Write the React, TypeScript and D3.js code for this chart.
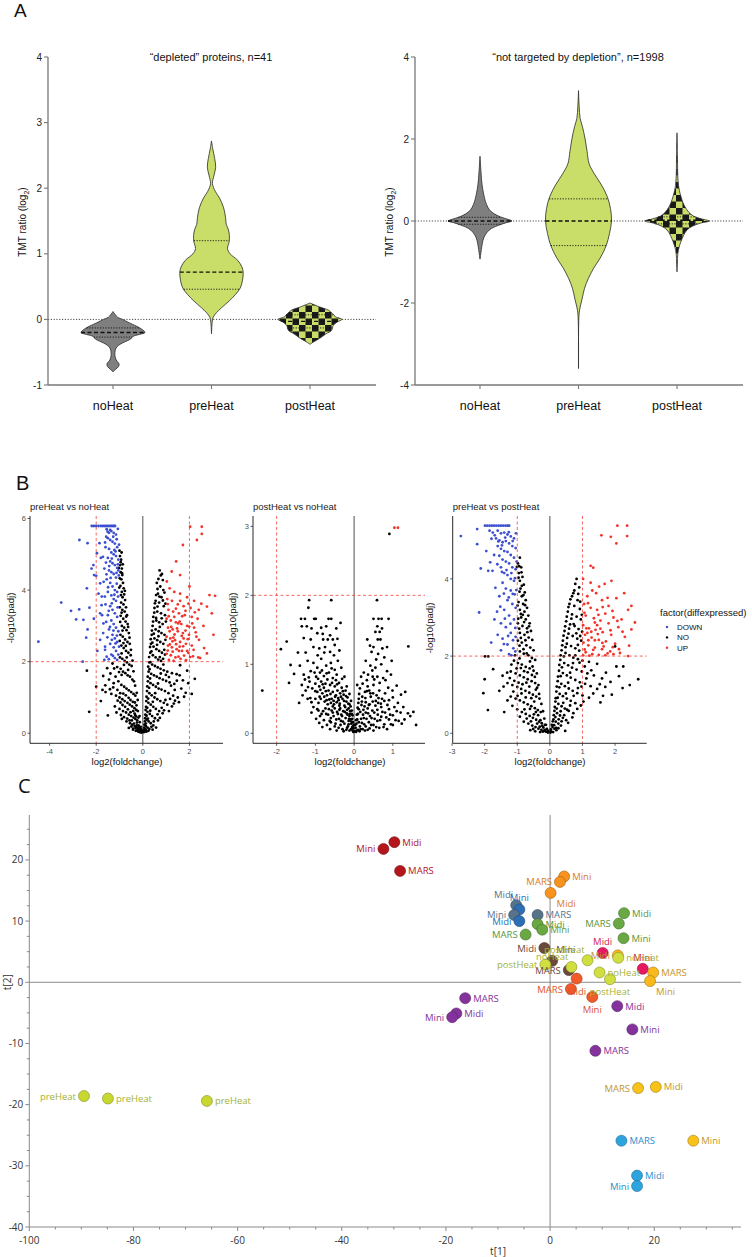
import React from 'react';
import * as d3 from 'd3';

// ---------------- Panel A data ----------------
const categories = ['noHeat', 'preHeat', 'postHeat'];
const depletedTitle = '\u201cdepleted\u201d proteins, n=41';
const notTargetedTitle = '\u201cnot targeted by depletion\u201d, n=1998';
const depletedTicks = [-1, 0, 1, 2, 3, 4];
const notTargetedTicks = [-4, -2, 0, 2, 4];

// [log2 ratio, relative density width]
const depNoHeat: [number, number][] = [[0.12, 0], [0.08, 0.06], [0.03, 0.15], [0, 0.3], [-0.05, 0.5], [-0.1, 0.72], [-0.15, 0.9], [-0.2, 1.0], [-0.23, 0.82], [-0.26, 0.62], [-0.3, 0.55], [-0.34, 0.38], [-0.38, 0.22], [-0.42, 0.12], [-0.47, 0.07], [-0.55, 0.06], [-0.62, 0.1], [-0.68, 0.19], [-0.72, 0.17], [-0.76, 0.08], [-0.8, 0]];
const depPreHeat: [number, number][] = [[2.72, 0], [2.6, 0.04], [2.45, 0.1], [2.32, 0.13], [2.2, 0.08], [2.07, 0.03], [1.95, 0.12], [1.85, 0.25], [1.7, 0.38], [1.55, 0.44], [1.45, 0.46], [1.38, 0.52], [1.28, 0.56], [1.18, 0.55], [1.08, 0.5], [1.0, 0.58], [0.9, 0.82], [0.8, 0.95], [0.72, 0.99], [0.6, 0.97], [0.48, 0.9], [0.38, 0.75], [0.28, 0.55], [0.18, 0.32], [0.1, 0.15], [0.03, 0.05], [-0.05, 0.02], [-0.22, 0]];
const depPostHeat: [number, number][] = [[0.25, 0], [0.19, 0.3], [0.14, 0.58], [0.09, 0.7], [0.04, 0.8], [0, 1.0], [-0.04, 0.85], [-0.09, 0.73], [-0.17, 0.67], [-0.22, 0.5], [-0.29, 0.3], [-0.34, 0.12], [-0.38, 0]];
const allNoHeat: [number, number][] = [[1.58, 0], [1.2, 0.03], [0.9, 0.06], [0.7, 0.1], [0.55, 0.14], [0.4, 0.2], [0.28, 0.28], [0.18, 0.42], [0.1, 0.62], [0.04, 0.85], [0, 0.97], [-0.04, 0.8], [-0.1, 0.58], [-0.18, 0.35], [-0.27, 0.22], [-0.4, 0.12], [-0.55, 0.07], [-0.7, 0.04], [-0.93, 0]];
const allPreHeat: [number, number][] = [[3.18, 0], [2.8, 0.02], [2.5, 0.05], [2.3, 0.12], [2.0, 0.2], [1.7, 0.26], [1.4, 0.32], [1.15, 0.48], [0.9, 0.68], [0.6, 0.87], [0.3, 0.97], [0, 1.0], [-0.3, 0.94], [-0.6, 0.84], [-0.9, 0.66], [-1.15, 0.46], [-1.4, 0.3], [-1.65, 0.18], [-1.9, 0.11], [-2.1, 0.05], [-2.3, 0.015], [-3.6, 0]];
const allPostHeat: [number, number][] = [[2.15, 0], [1.5, 0.015], [1.0, 0.03], [0.75, 0.07], [0.6, 0.12], [0.45, 0.18], [0.35, 0.24], [0.22, 0.35], [0.12, 0.5], [0.05, 0.75], [0, 0.98], [-0.05, 0.72], [-0.12, 0.48], [-0.22, 0.3], [-0.35, 0.2], [-0.5, 0.12], [-0.65, 0.06], [-0.8, 0.025], [-1.24, 0]];
// [lower quartile, median, upper quartile]
const depQuartiles = [[-0.27, -0.2, -0.13], [0.46, 0.72, 1.2], [-0.13, -0.03, 0.07]];
const allQuartiles = [[-0.08, 0, 0.09], [-0.6, 0, 0.54], [-0.07, 0.02, 0.1]];

// ---------------- Panel B data ----------------
const volcanoTitles = ['preHeat vs noHeat', 'postHeat vs noHeat', 'preHeat vs postHeat'];
const legendTitle = 'factor(diffexpressed)';
const legendItems = ['DOWN', 'NO', 'UP'];

const v1Down: [number, number][] = [[-2.19, 5.79], [-2.1, 5.79], [-2.0, 5.79], [-1.9, 5.79], [-1.8, 5.79], [-1.72, 5.79], [-1.65, 5.79], [-1.58, 5.79], [-1.5, 5.79], [-1.43, 5.79], [-1.36, 5.79], [-1.3, 5.79], [-1.24, 5.79], [-1.19, 5.79], [-2.37, 5.31], [-2.72, 5.4], [-4.48, 2.56], [-3.5, 3.65], [-3.08, 3.42], [-2.73, 3.46], [-2.86, 3.18], [-2.55, 3.17], [-2.43, 2.67], [-2.58, 2.0], [-2.37, 2.9], [-2.29, 3.51], [-2.4, 4.05], [-2.12, 4.7], [-2.09, 4.42], [-1.97, 5.03], [-1.86, 5.31], [-1.83, 4.19], [-1.76, 3.82], [-1.83, 3.35], [-1.69, 3.07], [-1.83, 2.61], [-1.62, 2.42], [-1.55, 2.14], [-1.4, 5.68], [-1.57, 5.49], [-1.55, 5.7], [-1.45, 5.6], [-1.35, 5.65], [-1.25, 5.6], [-1.15, 5.55], [-1.5, 5.45], [-1.4, 5.4], [-1.3, 5.35], [-1.2, 5.3], [-1.1, 5.2], [-1.6, 5.2], [-1.45, 5.15], [-1.35, 5.05], [-1.25, 5.0], [-1.15, 4.95], [-1.05, 4.85], [-1.5, 4.9], [-1.4, 4.8], [-1.3, 4.75], [-1.2, 4.7], [-1.1, 4.62], [-1.05, 4.55], [-1.65, 4.6], [-1.45, 4.55], [-1.35, 4.5], [-1.25, 4.45], [-1.15, 4.35], [-1.55, 4.3], [-1.4, 4.2], [-1.3, 4.1], [-1.2, 4.0], [-1.1, 3.95], [-1.5, 3.95], [-1.35, 3.85], [-1.25, 3.75], [-1.15, 3.7], [-1.6, 3.6], [-1.4, 3.55], [-1.3, 3.45], [-1.2, 3.35], [-1.1, 3.25], [-1.5, 3.3], [-1.35, 3.15], [-1.25, 3.05], [-1.15, 2.95], [-1.05, 2.85], [-1.45, 2.9], [-1.3, 2.75], [-1.2, 2.65], [-1.1, 2.55], [-1.4, 2.5], [-1.25, 2.4], [-1.15, 2.3], [-1.05, 2.2], [-1.35, 2.2], [-1.2, 2.1], [-1.1, 2.05], [-1.7, 2.8], [-1.75, 3.3], [-1.9, 3.9], [-2.0, 4.4], [-1.8, 4.9], [-2.2, 4.6], [-2.1, 3.2], [-1.95, 2.3], [-1.65, 2.05],
  [-1.07, 5.71], [-1.12, 5.42], [-1.02, 5.27], [-1.22, 5.12], [-1.33, 4.88], [-1.44, 4.67], [-1.58, 4.77], [-1.71, 4.93], [-1.62, 5.33], [-1.51, 5.63], [-1.27, 5.49], [-1.17, 5.08], [-1.07, 4.72], [-1.03, 4.41], [-1.12, 4.18], [-1.22, 3.87], [-1.33, 3.63], [-1.46, 3.42], [-1.57, 3.11], [-1.41, 2.97], [-1.26, 2.87], [-1.11, 2.73], [-1.02, 2.42], [-1.17, 2.51], [-1.33, 2.61], [-1.52, 2.68], [-1.62, 2.33], [-1.46, 2.07], [-1.28, 2.16], [-1.08, 3.52], [-1.06, 3.82], [-1.13, 4.48], [-1.38, 4.34], [-1.49, 4.08], [-1.63, 3.82], [-1.77, 3.58], [-1.68, 4.23], [-1.56, 4.44]];
const v1No: [number, number][] = [[-0.98, 4.95], [-0.93, 4.85], [-0.97, 4.7], [-0.9, 4.6], [-0.95, 4.5], [-0.88, 4.42], [-0.92, 4.3], [-0.85, 4.2], [-0.96, 4.12], [-0.82, 4.05], [-0.9, 3.95], [-0.8, 3.88], [-0.87, 3.8], [-0.76, 3.72], [-0.93, 3.65], [-0.83, 3.6], [-0.72, 3.52], [-0.88, 3.45], [-0.78, 3.4], [-0.68, 3.3], [-0.95, 3.28], [-0.84, 3.2], [-0.74, 3.12], [-0.65, 3.05], [-0.9, 3.0], [-0.8, 2.95], [-0.7, 2.88], [-0.6, 2.8], [-0.96, 2.75], [-0.86, 2.7], [-0.76, 2.62], [-0.66, 2.55], [-0.56, 2.5], [-0.92, 2.45], [-0.82, 2.38], [-0.72, 2.3], [-0.62, 2.25], [-0.52, 2.18], [-0.98, 2.12], [-0.88, 2.08], [-0.78, 2.02], [-0.68, 1.98], [-0.58, 1.92], [-0.48, 1.88], [-1.3, 1.95], [-1.1, 1.85], [-0.95, 1.8], [-0.85, 1.72], [-0.75, 1.68], [-0.65, 1.62], [-0.55, 1.58], [-0.45, 1.5], [-0.38, 1.45], [-1.45, 1.5], [-1.25, 1.4], [-1.05, 1.45], [-0.92, 1.35], [-0.8, 1.3], [-0.7, 1.25], [-0.6, 1.2], [-0.5, 1.15], [-0.4, 1.1], [-0.32, 1.05], [-1.6, 1.15], [-1.35, 1.1], [-1.15, 1.05], [-1.0, 1.0], [-0.88, 0.95], [-0.78, 0.9], [-0.66, 0.85], [-0.56, 0.8], [-0.46, 0.75], [-0.36, 0.7], [-0.28, 0.65], [-1.2, 0.75], [-1.0, 0.68], [-0.85, 0.62], [-0.72, 0.58], [-0.6, 0.52], [-0.5, 0.48], [-0.4, 0.44], [-0.32, 0.4], [-0.24, 0.36], [-0.9, 0.4], [-0.7, 0.33], [-0.55, 0.28], [-0.45, 0.24], [-0.35, 0.2], [-0.27, 0.17], [-0.2, 0.14], [-0.15, 0.1], [-0.1, 0.07], [-0.6, 0.15], [-0.42, 0.1], [-0.3, 0.07], [-0.2, 0.05], [-0.12, 0.03], [-0.06, 0.02], [-0.35, 0.55], [-0.25, 0.3], [-0.18, 0.22], [-2.4, 1.75], [-2.0, 1.3], [-1.8, 0.9], [-1.7, 1.6], [-2.3, 0.6], [-1.5, 0.5],
  [-1.03, 4.62], [-0.99, 4.33], [-1.01, 4.07], [-0.94, 3.86], [-0.99, 3.52], [-0.91, 3.37], [-0.97, 3.11], [-0.87, 2.87], [-0.99, 2.58], [-0.91, 2.23], [-0.83, 2.52], [-0.73, 2.44], [-0.69, 2.12], [-0.63, 1.77], [-0.81, 1.91], [-0.91, 1.63], [-1.02, 1.71], [-1.17, 1.58], [-1.23, 1.81], [-1.39, 1.67], [-1.53, 1.82], [-1.61, 1.34], [-1.73, 1.21], [-1.41, 1.23], [-1.27, 1.28], [-1.09, 1.21], [-0.97, 1.12], [-0.84, 1.11], [-0.73, 1.06], [-0.61, 0.99], [-0.53, 0.93], [-0.43, 0.88], [-0.34, 0.86], [-0.27, 0.78], [-0.21, 0.62], [-0.19, 0.44], [-0.13, 0.31], [-0.09, 0.18], [-0.07, 0.11], [-0.04, 0.06], [-0.16, 0.04], [-0.23, 0.09], [-0.31, 0.15], [-0.38, 0.27], [-0.47, 0.36], [-0.53, 0.59], [-0.64, 0.67], [-0.76, 0.74], [-0.87, 0.79], [-0.96, 0.86], [-1.08, 0.91], [-1.13, 0.58], [-0.94, 0.51], [-0.81, 0.45], [-0.67, 0.41], [-0.57, 0.36], [-0.49, 0.19], [-0.41, 0.13], [-0.26, 0.22], [-0.17, 0.17], [-0.11, 0.12], [-0.08, 0.05], [-0.33, 0.51], [-0.41, 0.62], [-0.29, 0.47], [-0.77, 3.98], [-0.89, 4.47], [-0.95, 4.78], [-0.91, 5.05], [-1.0, 5.1], [-0.86, 4.72], [-0.71, 3.26], [-0.63, 2.97], [-0.57, 2.67], [-0.51, 2.33], [-0.44, 2.03], [-0.4, 1.73], [-0.33, 1.33], [-0.26, 1.13], [-0.22, 0.93], [-0.14, 0.48],
  [0.72, 4.55], [0.82, 4.45], [0.6, 4.2], [0.75, 4.1], [0.88, 4.0], [0.65, 3.9], [0.8, 3.8], [0.55, 3.7], [0.7, 3.65], [0.9, 3.55], [0.5, 3.5], [0.62, 3.4], [0.78, 3.35], [0.95, 3.3], [0.45, 3.25], [0.58, 3.15], [0.7, 3.1], [0.85, 3.05], [0.42, 3.0], [0.55, 2.9], [0.68, 2.85], [0.8, 2.8], [0.93, 2.75], [0.38, 2.75], [0.5, 2.65], [0.62, 2.6], [0.75, 2.55], [0.88, 2.5], [0.35, 2.5], [0.46, 2.42], [0.58, 2.35], [0.7, 2.3], [0.82, 2.25], [0.95, 2.2], [0.32, 2.25], [0.43, 2.18], [0.55, 2.12], [0.66, 2.06], [0.78, 2.02], [0.28, 1.98], [0.4, 1.92], [0.52, 1.88], [0.64, 1.84], [0.76, 1.8], [0.9, 1.76], [1.05, 1.72], [1.25, 1.68], [1.45, 1.65], [0.25, 1.72], [0.36, 1.66], [0.48, 1.62], [0.6, 1.58], [0.72, 1.54], [0.86, 1.5], [1.0, 1.46], [1.15, 1.42], [1.35, 1.38], [1.65, 1.25], [1.95, 1.4], [0.22, 1.45], [0.33, 1.4], [0.44, 1.35], [0.56, 1.3], [0.68, 1.25], [0.8, 1.22], [0.95, 1.18], [1.1, 1.12], [1.3, 1.05], [1.5, 1.0], [0.18, 1.18], [0.28, 1.12], [0.38, 1.06], [0.5, 1.0], [0.62, 0.95], [0.75, 0.9], [0.9, 0.85], [1.05, 0.8], [1.25, 0.75], [0.15, 0.9], [0.24, 0.85], [0.34, 0.8], [0.45, 0.74], [0.56, 0.68], [0.7, 0.62], [0.85, 0.56], [0.12, 0.65], [0.2, 0.6], [0.3, 0.54], [0.4, 0.48], [0.52, 0.42], [0.65, 0.36], [0.1, 0.42], [0.17, 0.38], [0.25, 0.33], [0.34, 0.28], [0.45, 0.22], [0.07, 0.24], [0.13, 0.2], [0.2, 0.16], [0.28, 0.12], [0.05, 0.1], [0.1, 0.07], [0.16, 0.05], [0.03, 0.03], [1.9, 1.75], [1.6, 1.9], [2.1, 1.1],
  [0.06, 0.16], [0.09, 0.33], [0.11, 0.52], [0.14, 0.74], [0.16, 1.02], [0.19, 1.31], [0.21, 1.58], [0.23, 1.86], [0.27, 2.13], [0.31, 2.41], [0.34, 2.63], [0.39, 2.87], [0.44, 3.12], [0.49, 3.37], [0.52, 3.63], [0.57, 3.86], [0.63, 4.03], [0.67, 4.31], [0.77, 4.41], [0.86, 4.28], [0.93, 3.93], [0.97, 3.62], [0.99, 3.12], [0.97, 2.61], [0.92, 2.33], [0.87, 2.08], [0.73, 2.13], [0.61, 2.47], [0.67, 2.71], [0.73, 2.97], [0.81, 3.21], [0.86, 3.71], [0.71, 3.82], [0.63, 3.54], [0.57, 3.22], [0.47, 2.78], [0.41, 2.53], [0.37, 2.29], [0.33, 1.99], [0.29, 1.79], [0.31, 1.53], [0.27, 1.27], [0.23, 0.97], [0.19, 0.71], [0.16, 0.49], [0.13, 0.27], [0.22, 0.41], [0.32, 0.63], [0.43, 0.88], [0.53, 1.12], [0.65, 1.39], [0.77, 1.67], [0.88, 1.92], [0.99, 1.63], [1.12, 1.57], [1.21, 1.33], [1.37, 1.21], [1.46, 1.47], [1.58, 1.62], [1.72, 1.48], [1.84, 1.13], [1.55, 0.87], [1.38, 0.91], [1.17, 0.96], [0.97, 0.93], [0.81, 0.71], [0.63, 0.53], [0.47, 0.33], [0.37, 0.18], [0.24, 0.07], [0.12, 0.11], [0.08, 0.04], [0.57, 0.16], [0.73, 0.43], [0.91, 0.64], [1.12, 0.62], [1.33, 0.83], [2.23, 1.52], [1.77, 1.02], [0.42, 0.1]];
const v1Up: [number, number][] = [[2.53, 5.77], [2.03, 5.77], [1.72, 5.26], [2.32, 5.4], [2.53, 5.57], [1.43, 4.8], [1.24, 4.52], [1.6, 4.42], [1.03, 4.24], [2.86, 3.86], [3.1, 3.84], [2.75, 3.54], [2.96, 3.35], [3.03, 2.75], [2.75, 2.23], [2.46, 2.1], [1.15, 4.05], [1.35, 3.95], [1.6, 3.9], [1.9, 3.8], [2.2, 3.7], [1.05, 3.75], [1.25, 3.7], [1.5, 3.6], [1.75, 3.55], [2.05, 3.5], [2.4, 3.45], [1.1, 3.45], [1.3, 3.4], [1.55, 3.35], [1.8, 3.3], [2.1, 3.25], [2.35, 3.2], [1.02, 3.2], [1.2, 3.15], [1.42, 3.1], [1.65, 3.05], [1.9, 3.0], [2.2, 2.95], [1.08, 2.95], [1.28, 2.9], [1.5, 2.85], [1.72, 2.8], [1.98, 2.75], [2.3, 2.7], [1.02, 2.7], [1.18, 2.65], [1.38, 2.6], [1.6, 2.55], [1.85, 2.5], [2.1, 2.45], [1.08, 2.45], [1.25, 2.4], [1.45, 2.35], [1.68, 2.3], [1.95, 2.25], [1.02, 2.22], [1.2, 2.18], [1.4, 2.12], [1.62, 2.08], [1.85, 2.04], [2.15, 2.15], [1.12, 2.05], [1.32, 2.02], [1.55, 2.3], [1.75, 2.65], [1.35, 3.25], [1.6, 3.7], [2.6, 3.0], [2.0, 4.1], [1.15, 2.85], [1.9, 2.3],
  [1.07, 2.31], [1.16, 2.48], [1.27, 2.57], [1.36, 2.76], [1.47, 2.93], [1.58, 3.12], [1.69, 3.27], [1.83, 3.42], [1.96, 3.62], [2.12, 3.07], [2.27, 2.82], [2.41, 2.61], [2.18, 2.33], [2.03, 2.13], [1.77, 2.17], [1.58, 2.42], [1.43, 2.49], [1.31, 2.67], [1.22, 2.97], [1.11, 3.27], [1.07, 3.61], [1.42, 3.48], [1.52, 3.07], [1.67, 2.72], [1.83, 2.87], [1.99, 2.98], [2.23, 3.38], [2.51, 3.62], [2.63, 2.38], [2.38, 2.12], [1.28, 2.28], [1.53, 2.14], [1.73, 2.43], [1.93, 2.63]];

const v2No: [number, number][] = [[-1.16, 1.93], [-0.59, 1.93], [-1.18, 1.82], [-1.37, 1.66], [-1.27, 1.66], [-1.03, 1.66], [-0.99, 1.66], [-0.66, 1.66], [-0.59, 1.66], [-1.35, 1.55], [-1.22, 1.55], [-1.1, 1.52], [-0.85, 1.53], [-0.72, 1.55], [-0.46, 1.52], [-0.35, 1.6], [-0.95, 1.45], [-0.62, 1.42], [-1.3, 1.38], [-1.12, 1.36], [-0.8, 1.36], [-0.68, 1.36], [-0.55, 1.36], [-0.5, 1.28], [-1.05, 1.25], [-0.9, 1.23], [-0.75, 1.25], [-0.62, 1.18], [-0.38, 1.2], [-1.25, 1.17], [-1.89, 1.22], [-1.74, 1.33],
  [0.59, 1.93], [0.5, 1.66], [0.63, 1.66], [0.71, 1.66], [0.89, 1.66], [0.6, 1.55], [0.72, 1.52], [0.55, 1.47], [0.61, 1.36], [0.68, 1.36], [0.34, 1.36], [0.85, 1.25], [1.4, 1.26], [0.5, 1.25], [0.45, 1.18], [0.62, 1.15], [0.78, 1.1],
  [-1.64, 0.99], [-1.55, 0.86], [-1.4, 0.98], [-1.2, 1.05], [-1.05, 1.02], [-0.95, 0.95], [-0.85, 1.08], [-0.72, 0.98], [-0.6, 1.02], [-0.5, 0.92], [-0.42, 1.05], [-1.3, 0.85], [-1.12, 0.9], [-0.98, 0.82], [-0.88, 0.88], [-0.78, 0.83], [-0.65, 0.88], [-0.55, 0.8], [-0.45, 0.85], [-0.33, 0.95], [-0.25, 0.82],
  [0.3, 1.05], [0.42, 0.98], [0.55, 0.95], [0.7, 1.0], [0.85, 0.9], [0.25, 0.88], [0.36, 0.85], [0.48, 0.82], [0.6, 0.82], [0.75, 0.8], [0.95, 0.85], [1.1, 0.69], [1.32, 0.6],
  [-1.68, 0.73], [-1.42, 0.44], [-2.37, 0.62], [-1.35, 0.7], [-1.25, 0.62], [-1.15, 0.75], [-1.08, 0.65], [-1.0, 0.72], [-0.95, 0.6], [-0.9, 0.68], [-0.85, 0.75], [-0.82, 0.58], [-0.78, 0.66], [-0.74, 0.72], [-0.7, 0.55], [-0.66, 0.62], [-0.62, 0.7], [-0.58, 0.5], [-0.55, 0.6], [-0.5, 0.68], [-0.47, 0.55], [-0.43, 0.62], [-0.4, 0.48], [-0.36, 0.58], [-0.32, 0.66], [-0.3, 0.5], [-0.27, 0.56], [-0.22, 0.62], [-0.2, 0.46], [-0.17, 0.52], [-0.12, 0.42], [-1.2, 0.5], [-1.1, 0.45], [-1.0, 0.5], [-0.92, 0.44], [-0.86, 0.5], [-0.76, 0.46], [-0.68, 0.42], [-0.6, 0.44], [-0.52, 0.42], [-0.45, 0.45], [-0.38, 0.4], [-0.25, 0.4], [-0.14, 0.36],
  [0.08, 0.7], [0.15, 0.65], [0.22, 0.72], [0.28, 0.6], [0.35, 0.68], [0.42, 0.58], [0.5, 0.7], [0.58, 0.55], [0.65, 0.62], [0.72, 0.5], [0.8, 0.58], [0.9, 0.48], [1.0, 0.52], [0.12, 0.5], [0.2, 0.46], [0.3, 0.45], [0.4, 0.42], [0.48, 0.46], [0.55, 0.4], [0.62, 0.44], [0.7, 0.38],
  [-1.1, 0.3], [-0.95, 0.35], [-0.88, 0.25], [-0.8, 0.32], [-0.72, 0.28], [-0.65, 0.35], [-0.6, 0.22], [-0.55, 0.3], [-0.5, 0.36], [-0.46, 0.2], [-0.42, 0.28], [-0.38, 0.34], [-0.34, 0.18], [-0.31, 0.25], [-0.28, 0.32], [-0.25, 0.14], [-0.22, 0.22], [-0.19, 0.29], [-0.16, 0.1], [-0.14, 0.18], [-0.12, 0.25], [-0.1, 0.32], [-0.08, 0.06], [-0.07, 0.14], [-0.05, 0.21], [-0.04, 0.04], [-0.03, 0.1], [-0.02, 0.02], [-0.7, 0.12], [-0.5, 0.1], [-0.4, 0.08], [-0.3, 0.06], [-0.2, 0.05], [-0.12, 0.04], [-0.9, 0.15], [-0.6, 0.16], [-0.35, 0.12], [-0.18, 0.08], [-0.09, 0.2], [-0.06, 0.28],
  [0.02, 0.03], [0.04, 0.08], [0.06, 0.14], [0.08, 0.2], [0.1, 0.28], [0.12, 0.35], [0.05, 0.02], [0.1, 0.05], [0.15, 0.1], [0.2, 0.15], [0.25, 0.22], [0.3, 0.3], [0.35, 0.36], [0.14, 0.03], [0.22, 0.06], [0.3, 0.1], [0.38, 0.16], [0.45, 0.22], [0.52, 0.3], [0.6, 0.34], [0.28, 0.04], [0.4, 0.07], [0.5, 0.12], [0.6, 0.18], [0.7, 0.24], [0.8, 0.3], [0.9, 0.35], [0.5, 0.04], [0.65, 0.08], [0.78, 0.13], [0.9, 0.2], [1.0, 0.26], [1.1, 0.32], [1.2, 0.3], [1.39, 0.29], [1.45, 0.25], [1.53, 0.31], [1.0, 0.12], [1.15, 0.18], [0.85, 0.06], [1.3, 0.2], [1.6, 0.12], [0.91, 2.89],
  [-0.93, 0.79], [-0.87, 0.63], [-0.81, 0.71], [-0.77, 0.53], [-0.73, 0.61], [-0.69, 0.78], [-0.64, 0.49], [-0.61, 0.57], [-0.57, 0.73], [-0.53, 0.47], [-0.49, 0.53], [-0.44, 0.71], [-0.41, 0.51], [-0.37, 0.43], [-0.34, 0.53], [-0.29, 0.61], [-0.26, 0.47], [-0.23, 0.38], [-0.21, 0.54], [-0.18, 0.34], [-0.15, 0.43], [-0.11, 0.28], [-0.13, 0.21], [-0.07, 0.17], [-0.05, 0.09], [-0.03, 0.16], [-0.02, 0.07], [-0.06, 0.33], [-0.09, 0.39], [-0.17, 0.27], [-0.24, 0.31], [-0.29, 0.17], [-0.33, 0.27], [-0.39, 0.21], [-0.44, 0.31], [-0.48, 0.14], [-0.53, 0.25], [-0.58, 0.33], [-0.63, 0.18], [-0.67, 0.27], [-0.74, 0.36], [-0.78, 0.19], [-0.84, 0.28], [-0.92, 0.33], [-0.98, 0.21], [-1.05, 0.38], [-1.13, 0.51], [-1.19, 0.67], [-1.27, 0.78], [-1.33, 0.55], [-1.02, 0.88], [-0.83, 0.91], [-0.71, 0.87], [-0.58, 0.94], [-0.47, 0.77], [-0.39, 0.73], [-0.31, 0.79], [-0.19, 0.68], [-0.12, 0.57], [-0.08, 0.47], [-0.04, 0.26], [-0.01, 0.12], [-0.45, 0.04], [-0.62, 0.06], [-0.82, 0.09], [-0.27, 0.03], [-0.14, 0.13], [-0.36, 0.36], [-0.55, 0.39], [-0.71, 0.48], [-0.89, 0.53], [-1.0, 0.61], [-1.17, 0.81], [-0.94, 1.13], [-0.77, 1.17], [-0.52, 1.13], [-0.81, 1.44], [-0.43, 1.37], [-1.45, 1.17],
  [0.03, 0.12], [0.05, 0.19], [0.07, 0.27], [0.09, 0.37], [0.11, 0.44], [0.13, 0.57], [0.16, 0.31], [0.18, 0.21], [0.19, 0.41], [0.21, 0.53], [0.23, 0.27], [0.26, 0.13], [0.27, 0.39], [0.29, 0.51], [0.32, 0.21], [0.33, 0.61], [0.36, 0.29], [0.38, 0.41], [0.41, 0.25], [0.43, 0.53], [0.44, 0.12], [0.47, 0.33], [0.49, 0.58], [0.53, 0.21], [0.56, 0.47], [0.57, 0.09], [0.61, 0.27], [0.63, 0.51], [0.67, 0.19], [0.69, 0.43], [0.73, 0.31], [0.76, 0.09], [0.78, 0.47], [0.83, 0.23], [0.86, 0.41], [0.93, 0.27], [0.95, 0.13], [1.04, 0.38], [1.07, 0.19], [1.13, 0.44], [1.23, 0.14], [1.27, 0.38], [0.07, 0.04], [0.17, 0.06], [0.35, 0.05], [0.12, 0.16], [0.24, 0.34], [0.39, 0.62], [0.52, 0.78], [0.66, 0.73], [0.81, 0.77], [0.88, 0.66], [0.47, 0.91], [0.33, 0.77], [0.18, 0.82], [0.57, 1.07], [0.73, 1.23], [0.41, 1.27], [0.66, 1.47], [0.97, 1.05], [1.21, 0.56], [0.99, 0.62]];
const v2Up: [number, number][] = [[1.04, 2.98], [1.13, 2.98]];

const v3Down: [number, number][] = [[-1.99, 5.38], [-1.92, 5.38], [-1.85, 5.38], [-1.78, 5.38], [-1.71, 5.38], [-1.64, 5.38], [-1.57, 5.38], [-1.5, 5.38], [-1.43, 5.38], [-1.36, 5.38], [-1.3, 5.38], [-1.25, 5.38], [-2.73, 5.11], [-2.23, 5.29], [-2.23, 4.9], [-2.12, 4.27], [-1.89, 4.21], [-1.76, 4.21], [-2.17, 3.13], [-1.62, 3.15], [-1.85, 5.25], [-1.75, 5.2], [-1.6, 5.25], [-1.5, 5.18], [-1.4, 5.2], [-1.3, 5.15], [-1.2, 5.1], [-1.1, 5.05], [-1.65, 5.05], [-1.55, 5.0], [-1.45, 4.95], [-1.35, 4.98], [-1.25, 4.92], [-1.15, 4.85], [-1.05, 4.8], [-1.6, 4.85], [-1.5, 4.78], [-1.4, 4.72], [-1.3, 4.7], [-1.2, 4.62], [-1.1, 4.55], [-1.02, 4.45], [-1.55, 4.6], [-1.45, 4.5], [-1.35, 4.45], [-1.25, 4.4], [-1.15, 4.3], [-1.05, 4.25], [-1.5, 4.3], [-1.4, 4.15], [-1.3, 4.1], [-1.2, 4.0], [-1.1, 3.95], [-1.45, 3.9], [-1.35, 3.75], [-1.2, 3.7], [-1.08, 3.6], [-1.55, 3.55], [-1.3, 3.45], [-1.15, 3.35], [-1.05, 3.25], [-1.4, 3.2], [-1.25, 3.05], [-1.1, 2.95], [-1.7, 2.95], [-1.5, 2.85], [-1.35, 2.75], [-1.2, 2.6], [-1.05, 2.5], [-1.6, 2.55], [-1.45, 2.45], [-1.3, 2.3], [-1.12, 2.2], [-1.5, 2.15], [-1.25, 2.05], [-1.8, 2.35],
  [-1.04, 5.18], [-1.14, 4.98], [-1.26, 5.21], [-1.37, 5.07], [-1.47, 4.87], [-1.58, 4.97], [-1.69, 5.13], [-1.79, 5.04], [-1.71, 4.62], [-1.61, 4.38], [-1.47, 4.18], [-1.33, 4.23], [-1.18, 4.15], [-1.07, 4.02], [-1.03, 3.71], [-1.14, 3.61], [-1.26, 3.52], [-1.41, 3.62], [-1.52, 3.28], [-1.38, 2.97], [-1.21, 2.84], [-1.06, 2.73], [-1.13, 2.41], [-1.28, 2.52], [-1.41, 2.31], [-1.06, 2.12], [-1.18, 2.02], [-1.67, 3.77], [-1.83, 4.43], [-1.95, 4.72]];
const v3No: [number, number][] = [[-0.92, 4.55], [-0.98, 4.4], [-0.88, 4.3], [-0.95, 4.15], [-0.84, 4.05], [-0.92, 3.95], [-0.8, 3.85], [-0.9, 3.75], [-0.77, 3.65], [-0.86, 3.55], [-0.74, 3.45], [-0.96, 3.4], [-0.82, 3.35], [-0.7, 3.25], [-0.92, 3.2], [-0.78, 3.15], [-0.66, 3.05], [-0.88, 3.0], [-0.74, 2.95], [-0.62, 2.85], [-0.98, 2.85], [-0.84, 2.78], [-0.7, 2.72], [-0.58, 2.65], [-0.92, 2.6], [-0.78, 2.55], [-0.65, 2.48], [-0.54, 2.42], [-0.98, 2.4], [-0.86, 2.35], [-0.72, 2.28], [-0.6, 2.22], [-0.5, 2.15], [-0.92, 2.12], [-0.8, 2.06], [-0.66, 2.02], [-0.55, 1.95], [-0.45, 1.9], [-1.1, 1.88], [-0.98, 1.82], [-0.86, 1.78], [-0.74, 1.72], [-0.62, 1.68], [-0.5, 1.62], [-0.4, 1.55], [-1.2, 1.6], [-1.05, 1.55], [-0.92, 1.5], [-0.8, 1.45], [-0.68, 1.4], [-0.56, 1.35], [-0.45, 1.3], [-0.35, 1.25], [-1.3, 1.3], [-1.15, 1.25], [-1.0, 1.2], [-0.88, 1.15], [-0.75, 1.1], [-0.63, 1.05], [-0.52, 1.0], [-0.42, 0.95], [-0.32, 0.9], [-1.2, 0.95], [-1.05, 0.9], [-0.92, 0.85], [-0.8, 0.8], [-0.68, 0.75], [-0.57, 0.7], [-0.46, 0.65], [-0.37, 0.6], [-0.28, 0.55], [-1.0, 0.62], [-0.86, 0.55], [-0.74, 0.5], [-0.62, 0.45], [-0.52, 0.4], [-0.42, 0.35], [-0.33, 0.3], [-0.25, 0.26], [-0.8, 0.3], [-0.66, 0.25], [-0.54, 0.2], [-0.44, 0.16], [-0.35, 0.12], [-0.26, 0.09], [-0.18, 0.06], [-0.12, 0.04], [-0.06, 0.02], [-0.6, 0.08], [-0.45, 0.05], [-0.3, 0.03], [-0.2, 0.15], [-0.15, 0.22], [-2.04, 1.04], [-1.45, 1.49], [-1.74, 1.66], [-1.99, 1.99], [-1.89, 1.99], [-1.3, 0.85], [-1.55, 1.1], [-1.9, 0.6], [-1.4, 0.55], [-2.0, 1.4],
  [-1.01, 4.31], [-0.96, 4.03], [-0.93, 3.67], [-0.99, 3.31], [-0.89, 3.09], [-0.97, 2.97], [-0.94, 2.71], [-0.89, 2.47], [-0.93, 2.27], [-1.07, 2.02], [-1.18, 1.78], [-1.31, 1.57], [-1.42, 1.21], [-1.23, 1.43], [-1.09, 1.36], [-1.02, 1.68], [-0.93, 1.94], [-0.81, 2.18], [-0.75, 2.41], [-0.69, 2.62], [-0.64, 2.77], [-0.79, 2.88], [-0.83, 3.07], [-0.76, 3.32], [-0.81, 3.58], [-0.86, 3.82], [-0.87, 4.17], [-0.94, 4.33], [-0.71, 2.07], [-0.61, 1.86], [-0.53, 1.73], [-0.46, 1.46], [-0.39, 1.18], [-0.33, 1.02], [-0.26, 0.76], [-0.21, 0.57], [-0.17, 0.38], [-0.12, 0.22], [-0.09, 0.11], [-0.05, 0.06], [-0.15, 0.09], [-0.23, 0.19], [-0.29, 0.34], [-0.36, 0.47], [-0.43, 0.55], [-0.48, 0.82], [-0.57, 0.91], [-0.63, 1.21], [-0.72, 1.31], [-0.84, 1.27], [-0.96, 1.31], [-1.12, 1.08], [-0.99, 0.97], [-0.87, 1.03], [-0.74, 0.93], [-0.61, 0.63], [-0.49, 0.49], [-0.39, 0.25], [-0.31, 0.17], [-0.58, 0.31], [-0.71, 0.38], [-0.92, 0.43], [-1.15, 0.71], [-0.78, 0.62], [-0.51, 0.11], [-0.22, 0.04], [-0.68, 1.58], [-0.79, 1.61], [-0.89, 1.69], [-0.55, 1.51], [-0.43, 1.13],
  [0.82, 4.0], [0.9, 3.78], [0.75, 3.7], [0.68, 3.55], [0.85, 3.45], [0.6, 3.35], [0.75, 3.3], [0.92, 3.22], [0.55, 3.15], [0.68, 3.08], [0.82, 3.02], [0.95, 2.95], [0.5, 2.9], [0.62, 2.82], [0.76, 2.78], [0.88, 2.7], [0.45, 2.65], [0.57, 2.58], [0.7, 2.52], [0.84, 2.45], [0.96, 2.4], [0.4, 2.4], [0.52, 2.32], [0.65, 2.26], [0.78, 2.2], [0.9, 2.14], [0.36, 2.15], [0.48, 2.08], [0.6, 2.02], [0.72, 1.96], [0.86, 1.92], [1.0, 1.88], [1.2, 1.85], [1.45, 1.8], [0.32, 1.9], [0.44, 1.82], [0.56, 1.76], [0.68, 1.7], [0.82, 1.65], [0.98, 1.6], [1.15, 1.55], [1.35, 1.5], [1.6, 1.42], [0.28, 1.62], [0.4, 1.56], [0.52, 1.5], [0.64, 1.44], [0.78, 1.38], [0.92, 1.32], [1.08, 1.28], [1.25, 1.22], [1.45, 1.15], [0.24, 1.35], [0.35, 1.28], [0.46, 1.22], [0.58, 1.16], [0.7, 1.1], [0.84, 1.04], [1.0, 0.98], [1.2, 0.92], [0.2, 1.08], [0.3, 1.02], [0.4, 0.96], [0.52, 0.9], [0.64, 0.84], [0.78, 0.78], [0.95, 0.72], [0.17, 0.82], [0.26, 0.76], [0.36, 0.7], [0.46, 0.64], [0.58, 0.58], [0.72, 0.52], [0.14, 0.58], [0.22, 0.52], [0.31, 0.46], [0.4, 0.4], [0.5, 0.34], [0.11, 0.36], [0.18, 0.3], [0.26, 0.25], [0.34, 0.2], [0.08, 0.16], [0.14, 0.12], [0.2, 0.08], [0.04, 0.05], [0.1, 0.03], [0.02, 0.02], [2.71, 1.4], [2.45, 1.25], [2.23, 1.17], [2.04, 1.73], [2.25, 1.73], [1.9, 1.0], [1.7, 1.2], [1.55, 0.8], [2.0, 2.25],
  [0.03, 0.1], [0.06, 0.22], [0.09, 0.31], [0.12, 0.47], [0.15, 0.68], [0.18, 0.91], [0.21, 1.21], [0.25, 1.47], [0.29, 1.77], [0.33, 2.02], [0.38, 2.28], [0.42, 2.53], [0.47, 2.77], [0.52, 3.02], [0.57, 3.27], [0.63, 3.47], [0.72, 3.63], [0.78, 3.87], [0.87, 3.61], [0.93, 3.41], [0.98, 3.07], [0.99, 2.63], [0.93, 2.52], [0.86, 2.29], [0.81, 2.59], [0.73, 2.83], [0.66, 2.97], [0.59, 2.71], [0.53, 2.47], [0.48, 2.23], [0.43, 1.99], [0.37, 1.71], [0.33, 1.48], [0.29, 1.19], [0.24, 0.92], [0.21, 0.64], [0.17, 0.42], [0.13, 0.21], [0.19, 0.14], [0.27, 0.36], [0.33, 0.57], [0.41, 0.79], [0.49, 1.03], [0.56, 1.31], [0.62, 1.57], [0.71, 1.82], [0.78, 2.02], [0.91, 1.83], [1.07, 1.73], [1.27, 1.63], [1.12, 1.42], [0.97, 1.21], [0.86, 1.17], [0.73, 0.97], [0.62, 0.72], [0.53, 0.61], [0.44, 0.47], [0.36, 0.31], [0.26, 0.13], [0.56, 0.27], [0.69, 0.41], [0.84, 0.63], [1.03, 0.82], [1.33, 1.03], [1.53, 1.27], [1.72, 1.57], [1.86, 1.33], [2.12, 1.48], [1.63, 0.97], [0.47, 0.06]];
const v3Up: [number, number][] = [[2.07, 5.38], [2.37, 5.38], [1.58, 5.13], [1.87, 5.09], [2.04, 4.92], [2.37, 5.11], [1.25, 4.34], [1.33, 4.29], [1.89, 3.95], [1.02, 4.0], [1.51, 3.8], [2.04, 3.5], [2.4, 3.2], [2.5, 2.69], [1.3, 3.7], [1.15, 3.55], [1.6, 3.45], [1.8, 3.3], [1.05, 3.35], [1.25, 3.25], [1.45, 3.2], [1.7, 3.1], [1.95, 3.0], [2.2, 2.95], [1.1, 3.05], [1.35, 2.98], [1.55, 2.92], [1.8, 2.85], [2.1, 2.75], [1.02, 2.8], [1.2, 2.72], [1.4, 2.68], [1.62, 2.62], [1.88, 2.55], [2.3, 2.5], [1.08, 2.55], [1.28, 2.48], [1.5, 2.42], [1.72, 2.38], [2.0, 2.32], [1.03, 2.35], [1.18, 2.28], [1.38, 2.22], [1.6, 2.18], [1.85, 2.12], [2.15, 2.08], [1.1, 2.1], [1.3, 2.05], [1.5, 2.03], [1.7, 2.02], [1.95, 2.05], [2.4, 2.0], [1.02, 2.02], [1.15, 2.6], [1.45, 2.8], [1.65, 2.25], [1.25, 3.9], [2.5, 3.3],
  [1.07, 2.17], [1.18, 2.41], [1.27, 2.63], [1.38, 2.87], [1.49, 3.07], [1.62, 3.27], [1.77, 3.51], [1.92, 3.17], [2.07, 2.91], [2.23, 2.63], [2.12, 2.18], [1.93, 2.23], [1.77, 2.07], [1.61, 2.34], [1.47, 2.57], [1.33, 2.16], [1.21, 2.01], [1.12, 2.72], [1.06, 3.12], [1.17, 3.37], [1.42, 3.63], [1.68, 3.87], [2.28, 3.63], [2.61, 2.87], [2.43, 2.27], [1.38, 2.41], [1.55, 2.71], [1.86, 2.67]];

// ---------------- Panel C data ----------------
const pcaLabel = ['Midi', 'Mini', 'MARS', 'preHeat', 'preHeat', 'preHeat', 'Mini', 'MARS', 'Midi', 'Midi', 'Mini', 'Mini', 'Midi', 'MARS', 'Midi', 'Mini', 'MARS', 'Midi', 'MARS', 'Mini', 'Midi', 'Mini', 'MARS', 'Midi', 'Mini', 'Midi', 'MARS', 'Mini', 'Midi', 'MARS', 'Mini', 'MARS', 'Midi', 'Mini', 'Midi', 'Mini', 'MARS', 'MARS', 'Midi', 'Mini', 'MARS', 'Midi', 'Mini', 'postHeat', 'noHeat', 'noHeat', 'noHeat', 'postHeat', 'postHeat'];
const pcaT1 = [-29.9, -32.0, -28.8, -89.5, -84.9, -65.9, 2.7, 1.9, 0.1, -6.5, -5.9, -6.9, -5.9, -2.4, -2.4, -1.5, -4.7, 14.2, 13.2, 14.1, -1.1, 0.4, 3.6, 10.1, 17.8, 13.0, 19.8, 19.2, 5.1, 4.0, 8.1, -16.3, -18.0, -18.8, 12.9, 15.8, 8.7, 16.9, 20.3, 27.5, 13.7, 16.7, 16.7, -0.9, 4.1, 9.5, 13.1, 7.2, 11.5];
const pcaT2 = [22.9, 21.8, 18.2, -18.6, -19.0, -19.4, 17.3, 16.4, 14.6, 12.6, 11.9, 11.0, 10.0, 11.0, 9.5, 8.6, 7.8, 11.3, 9.6, 7.2, 5.6, 3.5, 2.0, 4.8, 2.2, 4.4, 1.6, 0.2, 0.6, -1.1, -2.4, -2.6, -5.1, -5.7, -3.9, -7.7, -11.2, -17.3, -17.1, -25.9, -25.9, -31.6, -33.3, 2.9, 2.5, 1.6, 4.0, 3.6, 0.5];
const pcaGroup = ['dr', 'dr', 'dr', 'ph', 'ph', 'ph', 'or', 'or', 'or', 'sl', 'bl', 'sl', 'bl', 'sl', 'gr', 'gr', 'gr', 'gr2', 'gr2', 'gr2', 'br', 'br', 'br', 'cr', 'cr', 'go', 'go', 'go', 'ro', 'ro', 'ro', 'pu', 'pu', 'pu', 'pu2', 'pu2', 'pu2', 'go2', 'go2', 'go2', 'lb', 'lb', 'lb', 'yg', 'yg', 'yg', 'yg', 'yg', 'yg'];
const pcaSide = ['r', 'l', 'r', 'l', 'r', 'r', 'r', 'l', 'br', 'tl', 't', 'l', 'l', 'r', 'r', 'r', 'l', 'r', 'l', 'r', 'l', 'tr', 'l', 't', 't', 'l', 'r', 'br', 'b', 'l', 'b', 'r', 'r', 'l', 'r', 'r', 'r', 'l', 'r', 'r', 'r', 'r', 'l', 'l', 'tl', 'r', 'r', 'tl', 'b'];
const pcaXTicks = [-100, -80, -60, -40, -20, 0, 20];
const pcaYTicks = [-40, -30, -20, -10, 0, 10, 20];

// ---------------- styles ----------------
const GREEN = '#c9dd69';
const GRAY = '#7f7f7f';
const groupColors: Record<string, [string, string]> = {
  dr: ['#b5161d', '#b5161d'], ph: ['#c8d831', '#a3b236'], or: ['#f7931e', '#dd7c22'], sl: ['#56738b', '#56738b'],
  bl: ['#2d6fb7', '#2d6fb7'], gr: ['#6aa843', '#5a963a'], gr2: ['#6aa843', '#5a963a'], br: ['#6b4a3b', '#6b4a3b'],
  yg: ['#d0df3f', '#a3b236'], cr: ['#e5195f', '#d41a5a'], go: ['#f9b81b', '#c4952e'], ro: ['#f15a29', '#e0532a'],
  pu: ['#85339c', '#85339c'], pu2: ['#85339c', '#85339c'], lb: ['#2ea4df', '#2b8fcd'], go2: ['#f8c21b', '#c4952e'],
};
const SANS = 'Liberation Sans, Arial, sans-serif';
const UI = 'Open Sans, Noto Sans, sans-serif';

type Prof = [number, number][];

function Violin({ cx, profile, y, W, fill, q }: { cx: number; profile: Prof; y: d3.ScaleLinear<number, number>; W: number; fill: string; q: number[] }) {
  const area = d3.area<[number, number]>().y(d => y(d[0])).x0(d => cx - d[1] * W).x1(d => cx + d[1] * W).curve(d3.curveCatmullRom.alpha(0.5));
  const wAt = d3.scaleLinear().domain(profile.map(d => d[0])).range(profile.map(d => d[1])).clamp(true);
  return (
    <g>
      <path d={area(profile) || ''} fill={fill} stroke="#2a2a2a" strokeWidth={0.8} />
      {q.map((v, i) => {
        const hw = wAt(v) * W;
        return <line key={i} x1={cx - hw} x2={cx + hw} y1={y(v)} y2={y(v)} stroke="#111" strokeWidth={i === 1 ? 1.4 : 0.9} strokeDasharray={i === 1 ? '4,2.5' : '1.2,1.5'} />;
      })}
    </g>
  );
}

function ViolinPanel({ axisX, right, domain, ticks, title, titleX, profiles, quarts, W, labelX }: any) {
  const y = d3.scaleLinear().domain(domain).range([385, 57]);
  const x = d3.scalePoint().domain(categories).range([axisX + 65, right - 66]);
  const fills = [GRAY, GREEN, 'url(#checker)'];
  return (
    <g fontFamily={SANS}>
      <line x1={axisX} x2={right} y1={y(0)} y2={y(0)} stroke="#333" strokeWidth={0.9} strokeDasharray="1.2,1.6" />
      {profiles.map((p: Prof, i: number) => (
        <Violin key={i} cx={x(categories[i])!} profile={p} y={y} W={W} fill={fills[i]} q={quarts[i]} />
      ))}
      <line x1={axisX} x2={axisX} y1={y(domain[1])} y2={y(domain[0])} stroke="#777" strokeWidth={1.3} />
      <line x1={axisX} x2={right} y1={y(domain[0])} y2={y(domain[0])} stroke="#777" strokeWidth={1.3} />
      {ticks.map((t: number) => (
        <g key={t}>
          <line x1={axisX - 4} x2={axisX} y1={y(t)} y2={y(t)} stroke="#777" strokeWidth={1.1} />
          <text x={axisX - 6} y={y(t) + 3.5} fontSize={10} textAnchor="end" fill="#222">{t}</text>
        </g>
      ))}
      {categories.map(c => (
        <g key={c}>
          <line x1={x(c)!} x2={x(c)!} y1={385} y2={389} stroke="#777" strokeWidth={1.1} />
          <text x={x(c)!} y={410} fontSize={12.5} textAnchor="middle" fill="#111">{c}</text>
        </g>
      ))}
      <text x={titleX} y={61} fontSize={11} textAnchor="middle" fill="#111">{title}</text>
      <text transform={`translate(${labelX},222) rotate(-90)`} fontSize={10} textAnchor="middle" fill="#111">
        TMT ratio (log<tspan dy={3} fontSize={7}>2</tspan><tspan dy={-3}>)</tspan>
      </text>
    </g>
  );
}

function Volcano({ left, right, top, bottom, xDom, yDom, xTicks, yTicks, vlines, title, titleX, xLabelX, yLabelX, yLabelY, down, no, up }: any) {
  const x = d3.scaleLinear().domain(xDom).range([left, right]);
  const y = d3.scaleLinear().domain(yDom).range([bottom, top]);
  const R = 1.4;
  return (
    <g fontFamily={SANS}>
      <line x1={x(0)} x2={x(0)} y1={top} y2={bottom} stroke="#222" strokeWidth={0.8} />
      {no.map((d: number[], i: number) => <circle key={'n' + i} cx={x(d[0])} cy={y(d[1])} r={R} fill="#000" />)}
      {down.map((d: number[], i: number) => <circle key={'d' + i} cx={x(d[0])} cy={y(d[1])} r={R} fill="#3b4fd0" />)}
      {up.map((d: number[], i: number) => <circle key={'u' + i} cx={x(d[0])} cy={y(d[1])} r={R} fill="#f2342b" />)}
      {vlines.map((v: number) => <line key={v} x1={x(v)} x2={x(v)} y1={top} y2={bottom} stroke="#f0433a" strokeWidth={0.8} strokeDasharray="3,2.5" />)}
      <line x1={left} x2={right} y1={y(2)} y2={y(2)} stroke="#f0433a" strokeWidth={0.8} strokeDasharray="3,2.5" />
      <line x1={left} x2={left} y1={top} y2={bottom} stroke="#111" strokeWidth={0.9} />
      <line x1={left} x2={right} y1={bottom} y2={bottom} stroke="#111" strokeWidth={0.9} />
      {yTicks.map((t: number) => (
        <g key={t}>
          <line x1={left - 2.5} x2={left} y1={y(t)} y2={y(t)} stroke="#333" strokeWidth={0.8} />
          <text x={left - 4} y={y(t) + 2.8} fontSize={7.5} textAnchor="end" fill="#4d4d4d">{t}</text>
        </g>
      ))}
      {xTicks.map((t: number) => (
        <g key={t}>
          <line x1={x(t)} x2={x(t)} y1={bottom} y2={bottom + 2.5} stroke="#333" strokeWidth={0.8} />
          <text x={x(t)} y={bottom + 11} fontSize={7.5} textAnchor="middle" fill="#4d4d4d">{t}</text>
        </g>
      ))}
      <text x={titleX} y={510} fontSize={9.5} fill="#222">{title}</text>
      <text x={xLabelX} y={765} fontSize={9.5} textAnchor="middle" fill="#111">log2(foldchange)</text>
      <text transform={`translate(${yLabelX},${yLabelY}) rotate(-90)`} fontSize={9.5} textAnchor="middle" fill="#111">-log10(padj)</text>
    </g>
  );
}

function Pca() {
  const x = d3.scaleLinear().domain([-100, 36.66]).range([29.3, 741]);
  const y = d3.scaleLinear().domain([-40, 27.34]).range([1227, 815]);
  const minorX = d3.range(-100, 36, 5);
  const minorY = d3.range(-40, 27.4, 2.5);
  const place = (s: string, px: number, py: number) => {
    switch (s) {
      case 'l': return { x: px - 8, y: py + 3.5, a: 'end' };
      case 't': return { x: px, y: py - 8, a: 'middle' };
      case 'b': return { x: px, y: py + 16, a: 'middle' };
      case 'tl': return { x: px - 3, y: py - 7, a: 'end' };
      case 'tr': return { x: px + 4, y: py - 8, a: 'start' };
      case 'br': return { x: px + 6, y: py + 14, a: 'start' };
      default: return { x: px + 8, y: py + 3.5, a: 'start' };
    }
  };
  return (
    <g fontFamily={UI}>
      <line x1={x(-100)} x2={741} y1={y(0)} y2={y(0)} stroke="#8a8a8a" strokeWidth={1} />
      <line x1={x(0)} x2={x(0)} y1={815} y2={1227} stroke="#8a8a8a" strokeWidth={1} />
      <line x1={x(-100)} x2={x(-100)} y1={815} y2={1227} stroke="#8a8a8a" strokeWidth={1} />
      <line x1={x(-100)} x2={741} y1={1227} y2={1227} stroke="#8a8a8a" strokeWidth={1} />
      {minorY.map(t => <line key={'my' + t} x1={x(-100) - (t % 10 === 0 ? 4 : 2.5)} x2={x(-100)} y1={y(t)} y2={y(t)} stroke="#8a8a8a" />)}
      {minorX.map(t => <line key={'mx' + t} x1={x(t)} x2={x(t)} y1={1227} y2={1227 + (t % 20 === 0 ? 4 : 2.5)} stroke="#8a8a8a" />)}
      {pcaYTicks.map(t => <text key={'ty' + t} x={x(-100) - 6} y={y(t) + 3.5} fontSize={10} textAnchor="end" fill="#333">{t}</text>)}
      {pcaXTicks.map(t => <text key={'tx' + t} x={x(t)} y={1244} fontSize={10} textAnchor="middle" fill="#333">{t}</text>)}
      <text x={498} y={1255} fontSize={10} textAnchor="middle" fill="#333">t[1]</text>
      <text transform={`translate(11,${y(0)}) rotate(-90)`} fontSize={10} textAnchor="middle" fill="#333">t[2]</text>
      {pcaT1.map((t1, i) => {
        const c = groupColors[pcaGroup[i]];
        return <circle key={'p' + i} cx={x(t1)} cy={y(pcaT2[i])} r={5.5} fill={c[0]} stroke={d3.color(c[0])!.darker(1.2).formatHex()} strokeWidth={0.6} />;
      })}
      {pcaT1.map((t1, i) => {
        const c = groupColors[pcaGroup[i]];
        const p = place(pcaSide[i], x(t1), y(pcaT2[i]));
        return <text key={'l' + i} x={p.x} y={p.y} fontSize={9.5} textAnchor={p.a as any} fill={c[1]}>{pcaLabel[i]}</text>;
      })}
    </g>
  );
}

export default function App() {
  return (
    <svg width={752} height={1257} style={{ position: 'absolute', left: 0, top: 0, background: '#fff' }}>
      <defs>
        <pattern id="checker" width={13} height={13} patternUnits="userSpaceOnUse">
          <rect width={13} height={13} fill={GREEN} />
          <rect width={6.5} height={6.5} fill="#1a1a1a" />
          <rect x={6.5} y={6.5} width={6.5} height={6.5} fill="#1a1a1a" />
        </pattern>
      </defs>
      <rect width={752} height={1257} fill="#fff" />
      <text x={14} y={17} fontSize={19} fontFamily={SANS} fill="#111">A</text>
      <text x={16} y={490} fontSize={20} fontFamily={SANS} fill="#111">B</text>
      <text x={18} y={793} fontSize={20} fontFamily={UI} fill="#111">C</text>

      <ViolinPanel axisX={48} right={376} domain={[-1, 4]} ticks={depletedTicks} title={depletedTitle} titleX={211}
        profiles={[depNoHeat, depPreHeat, depPostHeat]} quarts={depQuartiles} W={32} labelX={26} />
      <ViolinPanel axisX={415} right={743} domain={[-4, 4]} ticks={notTargetedTicks} title={notTargetedTitle} titleX={578}
        profiles={[allNoHeat, allPreHeat, allPostHeat]} quarts={allQuartiles} W={33} labelX={393} />

      <Volcano left={30} right={223} top={516} bottom={743.3} xDom={[-4.84, 3.44]} yDom={[-0.28, 6.07]} xTicks={[-4, -2, 0, 2]} yTicks={[0, 2, 4, 6]}
        vlines={[-2, 2]} title={volcanoTitles[0]} titleX={30} xLabelX={127} yLabelX={14} yLabelY={618} down={v1Down} no={v1No} up={v1Up} />
      <Volcano left={253} right={425} top={516} bottom={743.3} xDom={[-2.61, 1.83]} yDom={[-0.145, 3.15]} xTicks={[-2, -1, 0, 1]} yTicks={[0, 1, 2, 3]}
        vlines={[-2]} title={volcanoTitles[1]} titleX={253} xLabelX={350} yLabelX={236} yLabelY={618} down={[]} no={v2No} up={v2Up} />
      <Volcano left={452.7} right={646.7} top={516} bottom={743.3} xDom={[-2.98, 2.97]} yDom={[-0.26, 5.63]} xTicks={[-3, -2, -1, 0, 1, 2]} yTicks={[0, 2, 4]}
        vlines={[-1, 1]} title={volcanoTitles[2]} titleX={452.7} xLabelX={550} yLabelX={433} yLabelY={628} down={v3Down} no={v3No} up={v3Up} />

      <g fontFamily={SANS}>
        <text x={660} y={615.5} fontSize={9.5} fill="#111">{legendTitle}</text>
        {legendItems.map((it, i) => (
          <g key={it}>
            <circle cx={667} cy={627 + i * 10.4} r={1.2} fill={['#3b4fd0', '#000', '#f2342b'][i]} />
            <text x={677} y={630 + i * 10.4} fontSize={8} fill="#111">{it}</text>
          </g>
        ))}
      </g>
      <Pca />
    </svg>
  );
}
